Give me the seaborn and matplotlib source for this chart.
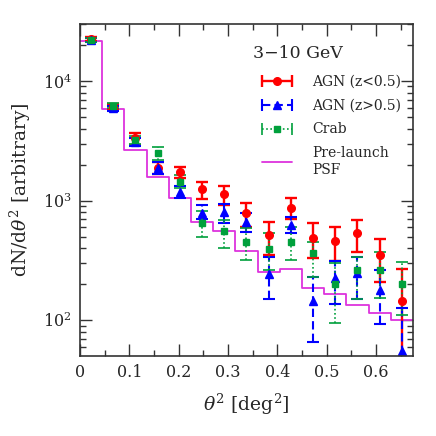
import numpy as np
import matplotlib
matplotlib.use('Agg')
import matplotlib.pyplot as plt
import seaborn as sns
from matplotlib.lines import Line2D
from matplotlib.container import ErrorbarContainer
from matplotlib.legend_handler import HandlerErrorbar
from matplotlib.ticker import MultipleLocator, FuncFormatter, LogLocator, NullFormatter

# theta^2 bin centres and edges [deg^2]
theta2 = [0.0225, 0.0675, 0.1125, 0.1575, 0.2025, 0.2475, 0.2925, 0.3375,
          0.3825, 0.4275, 0.4725, 0.5175, 0.5625, 0.6075, 0.6525]
bin_edges = [0.0, 0.045, 0.09, 0.135, 0.18, 0.225, 0.27, 0.315, 0.36,
             0.405, 0.45, 0.495, 0.54, 0.585, 0.63, 0.675]

# pre-launch PSF (step histogram)
psf = [21700, 5800, 2650, 1580, 1060, 660, 556, 378, 254, 266, 184, 165, 134, 114, 100]

# AGN (z<0.5)
agn_low = [22500, 6100, 3340, 1880, 1720, 1240, 1130, 790, 514, 871, 483, 461, 531, 350, 144]
agn_low_lo = [21500, 5800, 2920, 1670, 1535, 1036, 916, 604, 350, 697, 332, 312, 372, 207, 20]
agn_low_hi = [23500, 6400, 3690, 2090, 1920, 1436, 1331, 949, 665, 1042, 644, 604, 687, 476, 266]

# AGN (z>0.5)
agn_high = [22000, 5900, 3090, 1860, 1186, 790, 805, 665, 243, 623, 145, 223, 246, 178, 55]
agn_high_lo = [21000, 5600, 2850, 1667, 1043, 700, 644, 542, 149, 530, 65, 135, 150, 93, 20]
agn_high_hi = [23000, 6200, 3350, 2090, 1322, 916, 930, 781, 335, 731, 230, 312, 335, 262, 125]

# Crab
crab = [22000, 6200, 3200, 2480, 1436, 652, 556, 452, 393, 452, 361, 199, 262, 262, 199]
crab_lo = [21000, 5900, 2950, 2200, 1280, 498, 403, 318, 262, 318, 230, 95, 149, 153, 110]
crab_hi = [23000, 6500, 3450, 2790, 1620, 820, 687, 593, 531, 604, 450, 298, 335, 372, 304]

red = '#ff0000'
blue = '#0000ff'
green = '#00a03c'
magenta = '#dd33dd'

sns.set_style('ticks')
plt.rcParams['font.family'] = ['DejaVu Serif']
plt.rcParams['mathtext.fontset'] = 'dejavuserif'

fig = plt.figure(figsize=(4.36, 4.36), dpi=100)
ax = fig.add_axes([0.1835, 0.1846, 0.7635, 0.7604])

# PSF as a step line
sns.lineplot(x=bin_edges, y=psf + [psf[-1]], drawstyle='steps-post', estimator=None,
             color=magenta, lw=1.3, ax=ax)


def draw_points(vals, lo, hi, color, marker, ms, ls, lw):
    v = np.array(vals, dtype=float)
    yerr = [v - np.array(lo), np.array(hi) - v]
    cont = ax.errorbar(theta2, v, yerr=yerr, fmt=marker, color=color, ms=ms,
                       mec=color, elinewidth=lw, capsize=4.5, capthick=lw)
    cont[2][0].set_linestyle(ls)
    # proxy with a horizontal bar for the legend
    proxy = ax.errorbar([np.nan], [np.nan], xerr=[[1], [1]], fmt=marker, color=color,
                        ms=ms, mec=color, elinewidth=lw, capsize=4.5, capthick=lw)
    proxy[2][0].set_linestyle(ls)
    return proxy


h_red = draw_points(agn_low, agn_low_lo, agn_low_hi, red, 'o', 5.5, '-', 1.7)
h_blue = draw_points(agn_high, agn_high_lo, agn_high_hi, blue, '^', 5.5, (0, (4, 2)), 1.5)
h_green = draw_points(crab, crab_lo, crab_hi, green, 's', 4.5, (0, (1, 1.5)), 1.2)
h_psf = Line2D([], [], color=magenta, lw=1.3)

ax.set_yscale('log')
ax.set_xlim(0, 0.675)
ax.set_ylim(50.5, 30000)

ax.xaxis.set_major_locator(MultipleLocator(0.1))
ax.xaxis.set_minor_locator(MultipleLocator(0.05))
ax.xaxis.set_major_formatter(FuncFormatter(lambda v, p: '%g' % round(v, 3)))
ax.yaxis.set_minor_locator(LogLocator(base=10, subs=np.arange(2, 10)))
ax.yaxis.set_minor_formatter(NullFormatter())

ax.tick_params(which='both', direction='in', top=True, right=True,
               width=1.0, color='#333333', labelsize=11.5, pad=6)
ax.tick_params(which='major', length=8.5)
ax.tick_params(which='minor', length=4.3)
for sp in ax.spines.values():
    sp.set_linewidth(1.2)
    sp.set_color('#333333')

ax.set_xlabel(r'$\theta^2$ [deg$^2$]', fontsize=13.5)
ax.set_ylabel(r'dN/d$\theta^2$ [arbitrary]', fontsize=13.5)
ax.xaxis.set_label_coords(0.5, -0.11)
ax.yaxis.set_label_coords(-0.14, 0.5)

ax.text(0.655, 0.912, '3\u221210 GeV', transform=ax.transAxes, ha='center',
        va='center', fontsize=12.5)

ax.legend([h_red, h_blue, h_green, h_psf],
          ['AGN (z<0.5)', 'AGN (z>0.5)', 'Crab', 'Pre-launch\nPSF'],
          handler_map={ErrorbarContainer: HandlerErrorbar(xerr_size=1.1)},
          loc='upper left', bbox_to_anchor=(0.5465, 0.848), borderpad=0,
          borderaxespad=0, frameon=False, fontsize=10, numpoints=1,
          handlelength=2.2, handletextpad=1.4, labelspacing=0.72)

fig.savefig('out.png', dpi=100)
